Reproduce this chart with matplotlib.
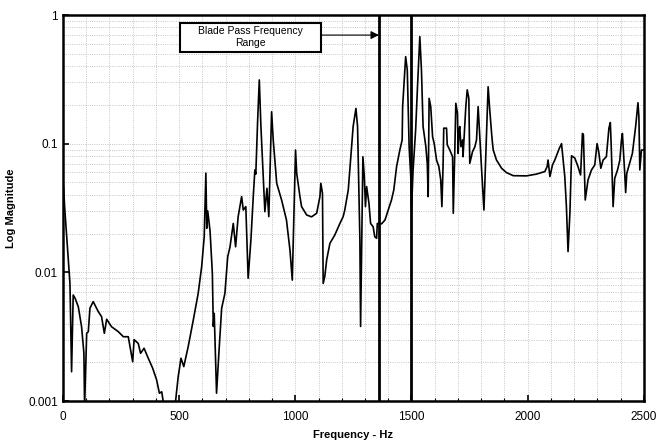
import matplotlib
matplotlib.use("Agg")
import matplotlib.pyplot as plt
from matplotlib.patches import Rectangle
from matplotlib.ticker import FixedLocator, FixedFormatter, MultipleLocator, LogLocator, NullFormatter

plt.rcParams['font.family'] = ['Liberation Sans', 'DejaVu Sans']

# response curve (Hz, magnitude)
freq_hz = [0, 3, 7, 30, 37, 44, 52, 66, 80, 90, 93, 102, 109, 116, 130, 152, 166, 178, 188,
           209, 238, 260, 281, 300, 306, 324, 334, 349, 367, 386, 403, 415, 425, 435,
           482, 496, 508, 520, 539, 561, 582, 597, 608, 615, 619, 623, 633, 643, 647,
           651, 661, 671, 683, 697, 709, 719, 733, 743, 754, 769, 776, 787, 797, 809,
           819, 826, 830, 838, 845, 852, 869, 878, 886, 898, 905, 920, 941, 962, 977,
           987, 995, 1001, 1006, 1020, 1027, 1049, 1070, 1092, 1106, 1110, 1117, 1120,
           1127, 1135, 1149, 1170, 1192, 1206, 1213, 1228, 1239, 1249, 1261, 1268,
           1274, 1278, 1281, 1291, 1297, 1302, 1307, 1317, 1324, 1335, 1342, 1350,
           1353, 1371, 1386, 1400, 1414, 1424, 1436, 1450, 1460, 1462, 1469, 1475,
           1482, 1490, 1497, 1500, 1507, 1518, 1526, 1536, 1543, 1550, 1562, 1568,
           1572, 1576, 1583, 1591, 1598, 1608, 1618, 1626, 1631, 1636, 1639, 1651,
           1654, 1665, 1677, 1680, 1687, 1691, 1698, 1701, 1705, 1708, 1713, 1720,
           1722, 1734, 1740, 1747, 1751, 1763, 1773, 1780, 1787, 1794, 1802, 1812,
           1830, 1837, 1845, 1849, 1852, 1866, 1888, 1909, 1938, 1995, 2038, 2074,
           2084, 2088, 2096, 2107, 2117, 2136, 2146, 2153, 2160, 2167, 2174, 2182,
           2189, 2203, 2217, 2228, 2236, 2240, 2248, 2260, 2275, 2289, 2299, 2306,
           2315, 2325, 2339, 2350, 2356, 2360, 2368, 2375, 2387, 2397, 2404, 2408,
           2418, 2422, 2427, 2439, 2451, 2465, 2475, 2479, 2483, 2490, 2500]
magnitude = [0.05, 0.045, 0.0324, 0.0082, 0.00169, 0.00667, 0.0063, 0.0054, 0.00378, 0.00236,
             0.0009, 0.00336, 0.00346, 0.00526, 0.00592, 0.00495, 0.00453, 0.00336, 0.00432,
             0.00378, 0.00346, 0.00316, 0.00316, 0.00202, 0.0030, 0.0028, 0.00235, 0.00257,
             0.00215, 0.0018, 0.00146, 0.00115, 0.00118, 0.0009,
             0.0009, 0.00155, 0.00215, 0.00185, 0.00265, 0.00427, 0.00687, 0.0111, 0.019,
             0.059, 0.022, 0.030, 0.021, 0.0098, 0.0038,
             0.0048, 0.00115, 0.00235, 0.00526, 0.00687, 0.0132, 0.0158, 0.024, 0.0158,
             0.0271, 0.0388, 0.0305, 0.0324, 0.009, 0.0179,
             0.0388, 0.0625, 0.058, 0.153, 0.313, 0.136, 0.0296, 0.045, 0.0271, 0.177,
             0.107, 0.0492, 0.0365, 0.0255, 0.0149,
             0.0087, 0.0324, 0.0893, 0.0589, 0.0388, 0.0324, 0.0279, 0.027, 0.0288, 0.0388,
             0.0492, 0.041, 0.0082,
             0.0093, 0.0125, 0.0168, 0.0195, 0.024, 0.0271, 0.0305, 0.0437, 0.0792, 0.136,
             0.188, 0.136,
             0.0388, 0.0179, 0.0038, 0.0792, 0.0555, 0.0324, 0.0464, 0.0345, 0.024, 0.0226,
             0.0189, 0.0184,
             0.024, 0.0238, 0.0255, 0.0305, 0.0365, 0.0437, 0.0663, 0.0893, 0.107, 0.194,
             0.313, 0.474,
             0.374, 0.0947, 0.0555, 0.03, 0.0625, 0.128, 0.277, 0.679, 0.374, 0.136, 0.0947,
             0.0703,
             0.0388, 0.225, 0.194, 0.113, 0.1, 0.0746, 0.0663, 0.0523, 0.0324, 0.0663, 0.132,
             0.132,
             0.098, 0.0893, 0.0792, 0.0288, 0.0947, 0.206, 0.172, 0.084, 0.128, 0.136, 0.0947,
             0.107,
             0.0792, 0.194, 0.262, 0.225, 0.0703, 0.0868, 0.0947, 0.107, 0.194, 0.113, 0.0625,
             0.0305,
             0.277, 0.183, 0.12, 0.1, 0.0893, 0.0746, 0.0644, 0.0596, 0.0564, 0.0562, 0.058,
             0.0607,
             0.0663, 0.0746, 0.0555, 0.0683, 0.0746, 0.0916, 0.1, 0.0746, 0.0555, 0.0324,
             0.0145, 0.0288,
             0.0805, 0.0774, 0.0663, 0.0571, 0.12, 0.118, 0.0365, 0.0523, 0.0625, 0.0683, 0.1,
             0.0868,
             0.0644, 0.0746, 0.0792, 0.132, 0.146, 0.0947, 0.0324, 0.0538, 0.0625, 0.0746,
             0.107, 0.12,
             0.0589, 0.0417, 0.0589, 0.0703, 0.084, 0.136, 0.208, 0.162, 0.0625, 0.0893, 0.0893]

blade_pass_hz = [1360, 1500]
y_ticks = [0.001, 0.01, 0.1, 1]
y_tick_labels = ["0.001", "0.01", "0.1", "1"]
x_ticks = [0, 500, 1000, 1500, 2000, 2500]

fig = plt.figure(figsize=(6.63, 4.40), dpi=100)
ax = fig.add_axes([0.095, 0.0886, 0.876, 0.8773])

ax.plot(freq_hz, magnitude, color='black', linewidth=1.2, zorder=3)
for f in blade_pass_hz:
    ax.axvline(f, color='black', linewidth=2.0, zorder=4)

ax.set_yscale('log')
ax.set_xlim(0, 2500)
ax.set_ylim(0.001, 1)

ax.yaxis.set_major_locator(FixedLocator(y_ticks))
ax.yaxis.set_major_formatter(FixedFormatter(y_tick_labels))
ax.yaxis.set_minor_locator(LogLocator(base=10, subs=range(2, 10)))
ax.yaxis.set_minor_formatter(NullFormatter())
ax.xaxis.set_major_locator(FixedLocator(x_ticks))
ax.xaxis.set_minor_locator(MultipleLocator(100))

ax.grid(which='both', color='#b4b4b4', linestyle=':', linewidth=0.6)
ax.tick_params(which='both', direction='in', labelsize=8.5, colors='black')
ax.tick_params(which='major', length=4, width=1.2)
ax.tick_params(which='minor', length=2.5, width=0.8)
ax.tick_params(axis='y', which='minor', length=0)
ax.tick_params(axis='x', pad=7)
for s in ax.spines.values():
    s.set_linewidth(1.8)

ax.set_xlabel("Frequency - Hz", fontsize=8, fontweight='bold', labelpad=5)
ax.set_ylabel("Log Magnitude", fontsize=8, fontweight='bold', labelpad=9)

# annotation box with arrow pointing to the blade pass range
ax.add_patch(Rectangle((0.201, 0.905), 0.244, 0.075, transform=ax.transAxes,
                       facecolor='white', edgecolor='black', linewidth=1.5, zorder=5))
ax.text(0.323, 0.9425, "Blade Pass Frequency\nRange", transform=ax.transAxes,
        ha='center', va='center', fontsize=7.5, linespacing=1.3, zorder=6)
ax.annotate("", xy=(blade_pass_hz[0], 0.948), xycoords=('data', 'axes fraction'),
            xytext=(0.445, 0.948), textcoords='axes fraction',
            arrowprops=dict(arrowstyle='-|>', color='black', lw=0.8,
                            mutation_scale=12, shrinkA=0, shrinkB=0), zorder=6)

fig.savefig("out.png", dpi=100)
